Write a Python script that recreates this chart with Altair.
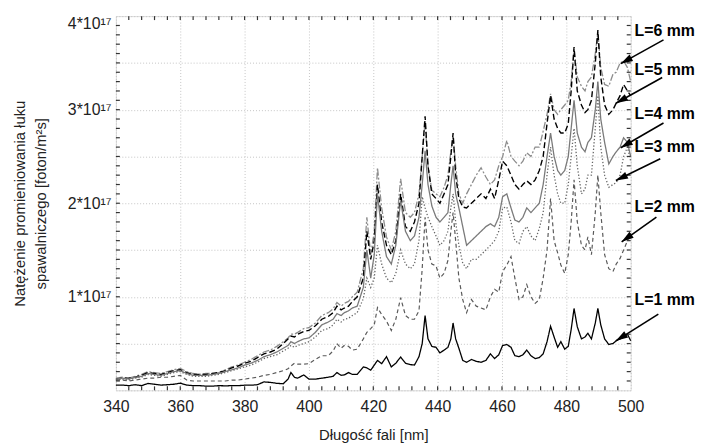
import math
import altair as alt
import pandas as pd

# ---------------- data (intensity in units of 10^17 foton/m^2 s) ----------------
wavelength = [
    340, 342, 344, 346, 348, 350, 352, 354, 356, 358, 360, 362, 364, 366, 368, 370,
    372, 374, 376, 378, 380, 382, 384, 386, 388, 390, 392, 393.5, 394.4, 395.5, 396.5,
    398.4, 400, 402, 404, 406, 407.5, 408.7, 410, 411, 412.3, 413.5, 415, 416.9,
    418, 419.2, 420.3, 421.3, 422.6, 424.1, 425.6, 427, 428.5, 430, 431.5, 432.8,
    434.2, 435.2, 436.1, 437, 438.2,
    439.5, 440.7, 442, 443.2, 444.1, 444.8, 445.6, 446.6, 447.8, 449, 450.5, 452,
    453.5, 455, 456.4, 457.7, 459, 460.2, 461.5, 462.8, 464, 465.3, 466.5, 467.7,
    469, 470.3, 471.6, 472.8, 474, 475.1, 476.2, 477.3, 478.3, 479.5, 480.6, 481.5,
    482.4, 483.4, 484.7, 485.8, 486.7, 487.8, 489, 489.8, 490.7, 491.9, 493.2,
    494.5, 495.5, 496.7, 497.8, 499, 500,
]

L1 = [
    .056, .056, .05, .06, .05, .074, .065, .056, .06, .065, .077, .056, .05, .05, .045, .045,
    .05, .048, .05, .05, .055, .055, .06, .09, .085, .075, .07, .12, .19, .14, .13,
    .165, .12, .12, .13, .14, .15, .19, .16, .165, .19, .17, .17, .25,
    .24, .215, .27, .32, .285, .36, .25, .29, .356, .29, .275, .27,
    .36, .5, .80, .55, .47,
    .46, .40, .43, .46, .55, .72, .55, .45, .32, .30, .33, .31,
    .30, .32, .39, .34, .38, .48, .49, .46, .37, .36, .38, .43,
    .37, .34, .35, .39, .52, .685, .57, .46, .52, .44, .47, .65,
    .875, .68, .55, .57, .61, .55, .72, .875, .7, .55, .49,
    .5, .53, .55, .57, .60, .53,
]

L2 = [
    .11, .11, .10, .11, .12, .13, .13, .14, .14, .15, .16, .11, .10, .10, .10, .10,
    .10, .10, .11, .11, .12, .13, .14, .16, .17, .19, .21, .23, .26, .29, .28,
    .28, .285, .33, .37, .37, .42, .5, .45, .48, .47, .43, .44, .55,
    .62, .66, .7, .885, .81, .74, .64, .76, .99, .8, .76, .76,
    .85, 1.3, 1.85, 1.5, 1.35,
    1.33, 1.2, 1.25, 1.39, 1.7, 1.9, 1.6, 1.2, 0.97, 0.83, 0.97, 0.9,
    0.88, 0.86, 1.0, 1.08, 1.05, 1.27, 1.34, 1.43, 1.2, 0.97, 1.0, 1.13,
    1.0, 0.93, 0.97, 1.2, 1.5, 2.05, 1.6, 1.47, 1.34, 1.25, 1.45, 1.8,
    2.25, 1.8, 1.55, 1.5, 1.64, 1.45, 1.9, 2.3, 1.9, 1.45, 1.3,
    1.27, 1.35, 1.41, 1.5, 1.6, 1.68,
]

L3 = [
    .11, .12, .11, .13, .14, .17, .16, .15, .17, .19, .2, .17, .15, .15, .15, .16,
    .17, .19, .21, .23, .25, .27, .3, .34, .36, .38, .42, .45, .48, .46, .48,
    .5, .52, .57, .64, .66, .7, .76, .73, .76, .77, .8, .83, .98,
    1.2, 1.1, 1.2, 1.55, 1.35, 1.2, 1.15, 1.25, 1.5, 1.35, 1.3, 1.35,
    1.6, 2.07, 1.95, 1.85, 1.75,
    1.65, 1.55, 1.6, 1.7, 1.95, 2.1, 1.8, 1.55, 1.36, 1.3, 1.4, 1.4,
    1.45, 1.5, 1.55, 1.6, 1.7, 1.95, 1.96, 1.8, 1.6, 1.57, 1.7, 1.75,
    1.65, 1.6, 1.73, 1.9, 2.3, 2.6, 2.3, 2.1, 2.0, 2.0, 2.2, 2.5,
    2.8, 2.4, 2.1, 2.15, 2.3, 2.3, 2.8, 3.15, 2.6, 2.3, 2.17,
    2.2, 2.22, 2.3, 2.5, 2.6, 2.45,
]

L4 = [
    .12, .13, .12, .14, .15, .18, .17, .16, .18, .2, .21, .18, .16, .16, .16, .17,
    .18, .2, .22, .24, .27, .29, .32, .36, .38, .41, .45, .48, .52, .5, .52,
    .55, .56, .62, .7, .73, .76, .82, .8, .83, .85, .88, .9, 1.1,
    1.5, 1.2, 1.45, 2.1, 1.7, 1.43, 1.35, 1.55, 2.03, 1.7, 1.6, 1.65,
    1.85, 2.2, 2.56, 2.2, 1.97,
    1.85, 1.8, 1.85, 1.9, 2.2, 2.4, 2.1, 1.95, 1.75, 1.55, 1.6, 1.65,
    1.7, 1.75, 1.78, 1.75, 1.85, 2.07, 2.1, 1.95, 1.82, 1.8, 1.85, 1.95,
    1.9, 1.95, 2.0, 2.2, 2.5, 2.75, 2.5, 2.35, 2.3, 2.35, 2.5, 2.8,
    3.1, 2.75, 2.6, 2.55, 2.65, 2.7, 3.0, 3.3, 2.9, 2.65, 2.42,
    2.5, 2.55, 2.6, 2.7, 2.65, 2.5,
]

L5 = [
    .12, .13, .13, .14, .16, .19, .18, .17, .19, .21, .22, .19, .17, .17, .17, .18,
    .19, .21, .24, .26, .29, .31, .35, .39, .41, .44, .5, .55, .58, .57, .6,
    .63, .64, .69, .76, .79, .83, .9, .86, .88, .9, .95, 1.0, 1.2,
    1.7, 1.4, 1.6, 2.2, 1.8, 1.55, 1.45, 1.6, 2.1, 1.75, 1.7, 1.8,
    2.0, 2.5, 2.93, 2.4, 2.1,
    2.05, 2.0, 2.1, 2.2, 2.5, 2.75, 2.3, 2.05, 1.96, 1.95, 2.0, 2.05,
    2.1, 2.05, 2.15, 2.05, 2.25, 2.45, 2.4, 2.3, 2.2, 2.15, 2.2, 2.24,
    2.2, 2.25, 2.35, 2.5, 2.85, 3.15, 2.9, 2.8, 2.75, 2.75, 2.85, 3.2,
    3.67, 3.2, 3.05, 2.97, 3.0, 3.1, 3.5, 3.85, 3.35, 3.05, 2.95,
    3.0, 3.07, 3.15, 3.27, 3.2, 3.15,
]

L6 = [
    .13, .14, .13, .15, .17, .2, .19, .18, .2, .22, .235, .2, .18, .17, .18, .18,
    .19, .22, .25, .27, .30, .33, .37, .41, .43, .47, .52, .56, .6, .6, .62,
    .66, .67, .72, .8, .83, .87, .94, .9, .93, .95, 1.0, 1.05, 1.3,
    1.85, 1.45, 1.7, 2.38, 1.95, 1.64, 1.5, 1.7, 2.26, 1.9, 1.85, 1.9,
    2.1, 2.5, 2.88, 2.4, 2.14,
    2.1, 2.07, 2.17, 2.3, 2.55, 2.72, 2.4, 2.1, 2.0, 2.1, 2.2, 2.3,
    2.38, 2.28, 2.2, 2.25, 2.4, 2.5, 2.67, 2.5, 2.45, 2.4, 2.45, 2.54,
    2.5, 2.6, 2.6, 2.77, 2.95, 3.17, 3.0, 2.95, 3.0, 3.05, 3.1, 3.3,
    3.65, 3.35, 3.25, 3.2, 3.3, 3.35, 3.6, 3.83, 3.45, 3.27, 3.25,
    3.38, 3.4, 3.5, 3.52, 3.45, 3.3,
]

series_names = ["L=6 mm", "L=5 mm", "L=4 mm", "L=3 mm", "L=2 mm", "L=1 mm"]
series_values = [L6, L5, L4, L3, L2, L1]

# label anchor (nm, value) and arrow tail / head (nm, value)
label_x = [501.2, 501.2, 501.2, 501.2, 501.2, 501.2]
label_y = [3.84, 3.42, 2.95, 2.60, 1.96, 0.96]
arrow_x0 = [510.2, 509.8, 510.2, 509.2, 508.0, 508.6]
arrow_y0 = [3.746, 3.344, 2.857, 2.476, 1.852, 0.815]
arrow_x1 = [496.9, 495.4, 496.9, 495.4, 497.2, 495.4]
arrow_y1 = [3.492, 3.069, 2.593, 2.243, 1.587, 0.529]

x_tick_labels = [340, 360, 380, 400, 420, 440, 460, 480, 500]
y_grid_values = [0, 0.5, 1, 1.5, 2, 2.5, 3, 3.5, 4]
x_minor_ticks = [v for v in range(344, 500, 4)]
y_minor_ticks = [round(0.1 * k, 1) for k in range(1, 40)]

# ---------------- styling ----------------
W, H = 520, 378
X_DOM = [340, 500]
Y_DOM = [0, 4]
FONT = "Liberation Sans"
TXT = "#222222"

line_color = {"L=6 mm": "#8c8c8c", "L=5 mm": "#000000", "L=4 mm": "#7a7a7a",
              "L=3 mm": "#666666", "L=2 mm": "#5a5a5a", "L=1 mm": "#000000"}
line_dash = {"L=6 mm": [7, 2, 2, 2], "L=5 mm": [6, 3], "L=4 mm": [1, 0],
             "L=3 mm": [1.3, 2], "L=2 mm": [4, 3], "L=1 mm": [1, 0]}
line_width = {"L=6 mm": 1.3, "L=5 mm": 1.4, "L=4 mm": 1.3,
              "L=3 mm": 1.3, "L=2 mm": 1.2, "L=1 mm": 1.3}

xscale = alt.Scale(domain=X_DOM, nice=False, zero=False)
yscale = alt.Scale(domain=Y_DOM, nice=False, zero=False)

xaxis = alt.Axis(
    values=x_tick_labels, grid=True, gridColor="#c4c4c4", gridDash=[1, 2], gridWidth=1,
    ticks=False, domain=False, labelFontSize=16, labelColor=TXT, labelPadding=8,
    labelFont=FONT, labelFlush=False,
    title="Długość fali [nm]", titleFont=FONT, titleFontSize=15,
    titleFontWeight="normal", titleColor=TXT, titleY=50, titleBaseline="alphabetic",
)
yaxis = alt.Axis(
    values=y_grid_values, grid=True, gridColor="#c4c4c4", gridDash=[1, 2], gridWidth=1,
    ticks=False, domain=False, labelFontSize=16, labelColor=TXT, labelPadding=5,
    labelFont=FONT, labelOverlap=False, labelFlush=True,
    labelExpr="datum.value >= 1 && datum.value % 1 == 0 ? datum.value + '*10¹⁷' : ''",
    title=["Natężenie promieniowania łuku", "spawalniczego [foton/m²s]"],
    titleFont=FONT, titleFontSize=15, titleFontWeight="normal", titleColor=TXT,
    titleX=-97, titleBaseline="middle", titleLineHeight=21,
)


def X(field):
    return alt.X(field, type="quantitative", scale=xscale, axis=xaxis)


def Y(field):
    return alt.Y(field, type="quantitative", scale=yscale, axis=yaxis)


layers = []
for name, vals in zip(series_names, series_values):
    d = pd.DataFrame({"wl": wavelength, "val": vals})
    layers.append(
        alt.Chart(d).mark_line(
            color=line_color[name], strokeDash=line_dash[name],
            strokeWidth=line_width[name], interpolate="linear",
        ).encode(x=X("wl"), y=Y("val"))
    )

# inward ticks on all four sides
xt = pd.DataFrame({"t": x_minor_ticks})
yt = pd.DataFrame({"t": y_minor_ticks})
tick_col = "#333333"
layers.append(alt.Chart(xt).mark_rule(color=tick_col, strokeWidth=1.2).encode(
    x=X("t"), y=alt.value(H), y2=alt.value(H - 4)))
layers.append(alt.Chart(xt).mark_rule(color=tick_col, strokeWidth=1.2).encode(
    x=X("t"), y=alt.value(0), y2=alt.value(4)))
layers.append(alt.Chart(yt).mark_rule(color=tick_col, strokeWidth=1.2).encode(
    y=Y("t"), x=alt.value(0), x2=alt.value(4)))
layers.append(alt.Chart(yt).mark_rule(color=tick_col, strokeWidth=1.2).encode(
    y=Y("t"), x=alt.value(W), x2=alt.value(W - 4)))

# annotations: labels and arrows
angles = []
for x0, y0, x1, y1 in zip(arrow_x0, arrow_y0, arrow_x1, arrow_y1):
    dx = (x1 - x0) * W / (X_DOM[1] - X_DOM[0])
    dy = -(y1 - y0) * H / (Y_DOM[1] - Y_DOM[0])
    angles.append(math.degrees(math.atan2(dx, -dy)) % 360)

ann = pd.DataFrame({
    "name": series_names, "lx": label_x, "ly": label_y,
    "x0": arrow_x0, "y0": arrow_y0, "x1": arrow_x1, "y1": arrow_y1, "ang": angles,
})

layers.append(alt.Chart(ann).mark_rule(color="#000000", strokeWidth=1.6).encode(
    x=X("x0"), y=Y("y0"), x2="x1", y2="y1"))
layers.append(alt.Chart(ann).mark_point(
    shape="M0,0L0.6,2L-0.6,2Z", filled=True, color="#000000", opacity=1, size=150,
    strokeWidth=0,
).encode(x=X("x1"), y=Y("y1"), angle=alt.Angle("ang:Q", scale=None)))
layers.append(alt.Chart(ann).mark_text(
    align="left", baseline="middle", font=FONT, fontSize=16, fontWeight="bold",
    color="#000000",
).encode(x=X("lx"), y=Y("ly"), text="name:N"))

chart = alt.layer(*layers).properties(
    width=W, height=H,
    autosize=alt.AutoSizeParams(type="none"),
    padding={"left": 109, "top": 6, "right": 68, "bottom": 52},
).configure_view(stroke="#2a2a2a", strokeWidth=2).configure(background="white")

chart.save("out.html", embed_options={"renderer": "svg", "actions": False})
